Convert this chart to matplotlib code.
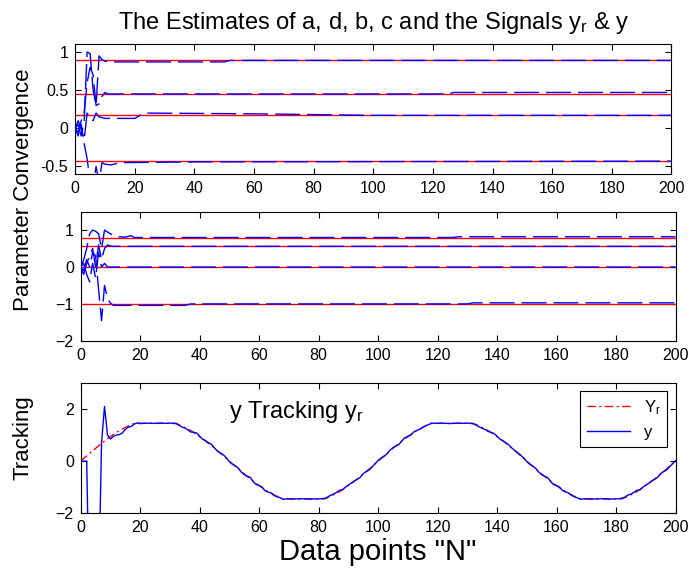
"""Parameter convergence and tracking plot (MATLAB-style, three panels)."""

import matplotlib
matplotlib.use("Agg")
import matplotlib.pyplot as plt

plt.rcParams["font.family"] = ["Liberation Sans", "DejaVu Sans"]
plt.rcParams["mathtext.fontset"] = "custom"
plt.rcParams["mathtext.rm"] = "Liberation Sans"
plt.rcParams["mathtext.it"] = "Liberation Sans"
plt.rcParams["mathtext.default"] = "regular"

# true parameter values (red) for the two upper panels
top_true = [0.89, 0.45, 0.17, -0.43]
mid_true = [0.80, 0.58, 0.00, -1.00]

# estimates, upper panel (sample index, value)
t1_k = [0, 1, 2, 3, 4, 5, 6, 7, 8, 9, 10, 12, 50, 52, 200]
t1_v = [0.00, 0.05, -0.10, 0.10, 1.00, 0.98, 0.50, 0.30, 0.95, 0.90, 0.88, 0.87, 0.87, 0.89, 0.89]
t2_k = [0, 1, 2, 3, 4, 5, 6, 7, 8, 9, 10, 11, 125, 127, 200]
t2_v = [0.00, -0.10, 0.10, 0.20, 0.60, 0.80, 0.70, 0.30, 0.32, 0.42, 0.47, 0.45, 0.45, 0.47, 0.47]
t3_k = [0, 1, 2, 3, 4, 5, 6, 7, 8, 9, 10, 20, 23, 60, 100, 200]
t3_v = [0.00, 0.10, 0.00, -0.15, 0.20, 0.15, 0.10, 0.20, 0.15, 0.14, 0.13, 0.13, 0.20, 0.19, 0.17, 0.17]
t4_k = [0, 1, 2, 3, 4, 5, 6, 7, 8, 9, 10, 12, 15, 40, 200]
t4_v = [0.00, -0.05, 0.05, -0.20, -0.40, -0.70, -0.80, -0.50, -0.70, -0.45, -0.47, -0.48, -0.45, -0.44, -0.43]

# estimates, middle panel
m1_k = [0, 1, 2, 3, 4, 5, 6, 7, 8, 9, 10, 12, 15, 17, 18, 125, 127, 200]
m1_v = [0.00, 0.20, 0.50, 0.90, 1.00, 0.97, 0.90, 0.50, 1.00, 0.95, 0.90, 0.82, 0.81, 0.85, 0.80, 0.80, 0.82, 0.82]
m2_k = [0, 1, 2, 3, 4, 5, 6, 7, 8, 9, 10, 11, 200]
m2_v = [0.00, -0.20, 0.10, 0.30, 0.50, 0.00, 0.60, 0.20, 0.50, 0.60, 0.57, 0.56, 0.56]
m3_k = [0, 1, 2, 3, 4, 5, 6, 7, 8, 9, 10, 200]
m3_v = [0.00, 0.10, -0.20, -0.40, 0.10, -0.30, 0.40, 0.00, 0.10, 0.00, 0.00, 0.00]
m4_k = [0, 1, 2, 3, 4, 5, 6, 7, 8, 9, 10, 11, 35, 37, 130, 132, 200]
m4_v = [0.00, -0.10, 0.20, 0.00, 0.40, 0.30, -0.60, -1.45, -0.50, -0.85, -0.98, -1.04, -1.04, -1.00, -1.00, -0.97, -0.97]

# reference signal y_r and plant output y, samples 0..200
y_ref = [
    0.00, 0.10, 0.20, 0.30, 0.40, 0.49, 0.59, 0.68, 0.77, 0.86,
    0.94, 1.02, 1.10, 1.17, 1.23, 1.29, 1.35, 1.40, 1.45, 1.45,
    1.45, 1.45, 1.45, 1.45, 1.45, 1.45, 1.45, 1.45, 1.45, 1.45,
    1.45, 1.45, 1.45, 1.40, 1.35, 1.29, 1.23, 1.17, 1.10, 1.02,
    0.94, 0.86, 0.77, 0.68, 0.59, 0.49, 0.40, 0.30, 0.20, 0.10,
    0.00, -0.10, -0.20, -0.30, -0.40, -0.49, -0.59, -0.68, -0.77, -0.86,
    -0.94, -1.02, -1.10, -1.17, -1.23, -1.29, -1.35, -1.40, -1.45, -1.45,
    -1.45, -1.45, -1.45, -1.45, -1.45, -1.45, -1.45, -1.45, -1.45, -1.45,
    -1.45, -1.45, -1.45, -1.40, -1.35, -1.29, -1.23, -1.17, -1.10, -1.02,
    -0.94, -0.86, -0.77, -0.68, -0.59, -0.49, -0.40, -0.30, -0.20, -0.10,
    0.00, 0.10, 0.20, 0.30, 0.40, 0.49, 0.59, 0.68, 0.77, 0.86,
    0.94, 1.02, 1.10, 1.17, 1.23, 1.29, 1.35, 1.40, 1.45, 1.45,
    1.45, 1.45, 1.45, 1.45, 1.45, 1.45, 1.45, 1.45, 1.45, 1.45,
    1.45, 1.45, 1.45, 1.40, 1.35, 1.29, 1.23, 1.17, 1.10, 1.02,
    0.94, 0.86, 0.77, 0.68, 0.59, 0.49, 0.40, 0.30, 0.20, 0.10,
    0.00, -0.10, -0.20, -0.30, -0.40, -0.49, -0.59, -0.68, -0.77, -0.86,
    -0.94, -1.02, -1.10, -1.17, -1.23, -1.29, -1.35, -1.40, -1.45, -1.45,
    -1.45, -1.45, -1.45, -1.45, -1.45, -1.45, -1.45, -1.45, -1.45, -1.45,
    -1.45, -1.45, -1.45, -1.40, -1.35, -1.29, -1.23, -1.17, -1.10, -1.02,
    -0.94, -0.86, -0.77, -0.68, -0.59, -0.49, -0.40, -0.30, -0.20, -0.10,
    0.00,
]
y_out = [
    0.00, 0.00, 0.00, -6.00, -8.00, -7.00, -5.00, 0.70, 2.10, 1.00,
    0.85, 0.95, 1.00, 1.02, 1.08, 1.22, 1.30, 1.33, 1.42, 1.47,
    1.44, 1.45, 1.45, 1.46, 1.45, 1.45, 1.45, 1.46, 1.45, 1.45,
    1.46, 1.45, 1.44, 1.38, 1.31, 1.27, 1.20, 1.12, 1.10, 1.08,
    0.95, 0.84, 0.78, 0.70, 0.64, 0.50, 0.38, 0.31, 0.24, 0.12,
    -0.02, -0.12, -0.18, -0.27, -0.42, -0.52, -0.58, -0.62, -0.79, -0.90,
    -0.93, -1.00, -1.14, -1.19, -1.22, -1.32, -1.37, -1.40, -1.47, -1.45,
    -1.45, -1.46, -1.45, -1.45, -1.44, -1.45, -1.45, -1.46, -1.45, -1.45,
    -1.45, -1.44, -1.43, -1.38, -1.31, -1.27, -1.20, -1.12, -1.10, -1.00,
    -0.92, -0.84, -0.76, -0.70, -0.62, -0.48, -0.40, -0.34, -0.22, -0.10,
    0.02, 0.12, 0.18, 0.28, 0.42, 0.52, 0.58, 0.64, 0.78, 0.90,
    0.95, 1.00, 1.12, 1.18, 1.22, 1.30, 1.36, 1.40, 1.46, 1.45,
    1.45, 1.46, 1.45, 1.45, 1.44, 1.45, 1.45, 1.46, 1.45, 1.45,
    1.46, 1.45, 1.43, 1.38, 1.31, 1.26, 1.21, 1.14, 1.10, 1.06,
    0.95, 0.84, 0.78, 0.70, 0.62, 0.50, 0.40, 0.32, 0.22, 0.12,
    -0.02, -0.12, -0.19, -0.28, -0.42, -0.52, -0.58, -0.63, -0.78, -0.90,
    -0.94, -1.00, -1.13, -1.18, -1.22, -1.31, -1.37, -1.41, -1.46, -1.45,
    -1.45, -1.45, -1.46, -1.45, -1.45, -1.44, -1.45, -1.45, -1.46, -1.45,
    -1.45, -1.44, -1.42, -1.38, -1.30, -1.27, -1.20, -1.12, -1.10, -1.00,
    -0.92, -0.85, -0.76, -0.70, -0.62, -0.48, -0.40, -0.34, -0.22, -0.10,
    0.02,
]
samples = list(range(len(y_ref)))

x_ticks = list(range(0, 201, 20))
top_yticks = [-0.5, 0, 0.5, 1]
top_ylabels = ["-0.5", "0", "0.5", "1"]
mid_yticks = [-2, -1, 0, 1]
bot_yticks = [-2, 0, 2]

RED = (1, 0, 0)
BLUE = (0, 0, 1)
EST_DASH = (18, 5)


def style_axis(ax, ylim, yticks, ylabels=None):
    ax.set_xlim(0, 200)
    ax.set_ylim(*ylim)
    ax.set_xticks(x_ticks)
    ax.set_yticks(yticks)
    if ylabels is not None:
        ax.set_yticklabels(ylabels)
    ax.tick_params(direction="in", length=4, width=0.8, top=True, right=True,
                   labelsize=11.5, pad=5)
    for spine in ax.spines.values():
        spine.set_linewidth(0.8)


def draw_params(ax, truths, estimates):
    for value in truths:
        ax.axhline(value, color=RED, lw=1.0, zorder=2)
    for ks, vs in estimates:
        ax.plot(ks, vs, color=BLUE, lw=1.0, dashes=EST_DASH, zorder=3)


fig = plt.figure(figsize=(6.9, 5.69), dpi=100)

ax1 = fig.add_axes([0.109, 0.694, 0.864, 0.228])
draw_params(ax1, top_true, [(t1_k, t1_v), (t2_k, t2_v), (t3_k, t3_v), (t4_k, t4_v)])
style_axis(ax1, (-0.6, 1.1), top_yticks, top_ylabels)
ax1.set_title("The Estimates of a, d, b, c and the Signals y$_r$ & y",
              fontsize=17, pad=11)

ax2 = fig.add_axes([0.117, 0.401, 0.862, 0.227])
draw_params(ax2, mid_true, [(m1_k, m1_v), (m2_k, m2_v), (m3_k, m3_v), (m4_k, m4_v)])
style_axis(ax2, (-2, 1.5), mid_yticks)

ax3 = fig.add_axes([0.117, 0.098, 0.862, 0.229])
ax3.plot(samples, y_ref, color=RED, lw=1.0, dashes=(6, 2.5, 1.5, 2.5), label="Y$_r$")
ax3.plot(samples, y_out, color=BLUE, lw=1.0, label="y")
style_axis(ax3, (-2, 3), bot_yticks)
ax3.text(50, 1.65, "y Tracking y$_r$", fontsize=17)
ax3.set_xlabel('Data points "N"', fontsize=21, labelpad=2)
leg = ax3.legend(loc="upper right", fontsize=12, fancybox=False, framealpha=1,
                 edgecolor="black", handlelength=2.6, borderaxespad=0.5)
leg.get_frame().set_linewidth(0.8)

fig.text(0.034, 1 - 190 / 569, "Parameter Convergence", rotation=90,
         fontsize=16, ha="center", va="center")
fig.text(0.034, 1 - 438 / 569, "Tracking", rotation=90,
         fontsize=16, ha="center", va="center")

fig.savefig("out.png", dpi=100)
